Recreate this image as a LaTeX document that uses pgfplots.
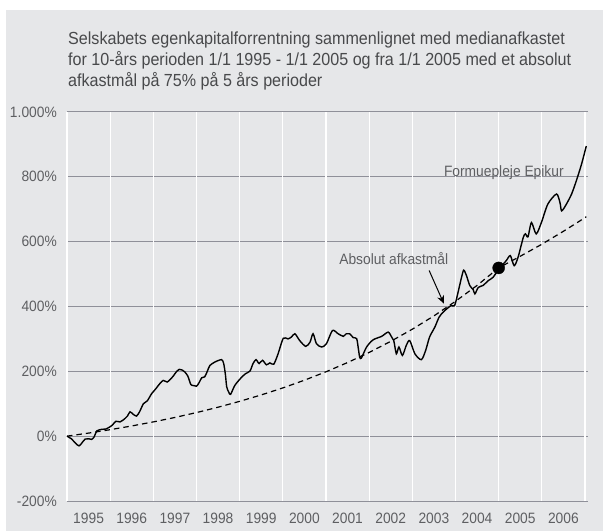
\documentclass[border=0pt]{standalone}
\usepackage{pgfplots}
\pgfplotsset{compat=1.18}
\usetikzlibrary{arrows.meta}
\usepackage{fontspec}
\setmainfont{Liberation Sans}[FakeStretch=0.92]
\definecolor{bgc}{HTML}{E6E7E9}
\definecolor{gridc}{HTML}{8F9099}
\definecolor{txtc}{HTML}{5E5F62}
\definecolor{titc}{HTML}{48494B}
\begin{document}
\begin{tikzpicture}
\fill[white] (0bp,0bp) rectangle (603bp,531bp);
\fill[bgc] (6bp,0bp) rectangle (603bp,521bp);
\node[anchor=base west, inner sep=0pt, text=titc, font=\fontsize{17.5bp}{21bp}\selectfont] at (68bp,486bp) {Selskabets egenkapitalforrentning sammenlignet med medianafkastet};
\node[anchor=base west, inner sep=0pt, text=titc, font=\fontsize{17.5bp}{21bp}\selectfont] at (68bp,465bp) {for 10-års perioden 1/1 1995 - 1/1 2005 og fra 1/1 2005 med et absolut};
\node[anchor=base west, inner sep=0pt, text=titc, font=\fontsize{17.5bp}{21bp}\selectfont] at (68bp,444bp) {afkastmål på 75\% på 5 års perioder};
\begin{axis}[
  at={(67bp,30bp)}, anchor=south west,
  scale only axis, width=521bp, height=389bp,
  xmin=1995, xmax=2007.07, ymin=-200, ymax=1000,
  axis line style={draw=none},
  major tick length=0pt,
  xtick={1995.5,1996.5,1997.5,1998.5,1999.5,2000.5,2001.5,2002.5,2003.5,2004.5,2005.5,2006.5},
  xticklabels={1995,1996,1997,1998,1999,2000,2001,2002,2003,2004,2005,2006},
  ytick={-200,0,200,400,600,800,1000},
  yticklabels={-200\%,0\%,200\%,400\%,600\%,800\%,1.000\%},
  ymajorgrids=true,
  grid style={gridc, line width=1bp},
  extra x ticks={1995,1996,1997,1998,1999,2000,2001,2002,2003,2004,2005,2006,2007},
  extra x tick labels={},
  extra x tick style={grid=major, grid style={white, line width=1.2bp}},
  tick label style={text=txtc, font=\fontsize{15bp}{17bp}\selectfont},
  yticklabel style={inner sep=0pt, xshift=-10bp},
  xticklabel style={inner sep=0pt, yshift=-12bp},
  clip=false,
]
\addplot[black, line width=1.2bp, dash pattern=on 5.5bp off 4bp] coordinates {
(1995,0) (1995.5,9.5) (1996,20) (1996.5,31.5) (1997,44) (1997.5,57.7) (1998,72.8) (1998.5,89.3) (1999,107.4) (1999.5,127.2) (2000,148.8) (2000.5,172.6) (2001,198.6) (2001.5,227.1) (2002,258.3) (2002.5,292.5) (2003,330) (2003.5,371) (2004,416) (2004.5,465) (2005,519) (2005.5,555) (2006,592) (2006.5,632) (2007,674) (2007.03,677)
};
\addplot[black, line width=1.4bp, smooth, tension=0.45] coordinates {
(1995.00,0) (1995.10,-8) (1995.20,-22) (1995.28,-30) (1995.35,-20) (1995.42,-9) (1995.50,-8) (1995.57,-10) (1995.63,-2) (1995.69,16) (1995.80,21) (1995.90,22) (1995.96,26) (1996.05,34) (1996.13,46) (1996.23,44) (1996.34,54) (1996.40,62) (1996.46,75) (1996.53,68) (1996.61,62) (1996.68,75) (1996.77,100) (1996.86,109) (1996.96,131) (1997.05,145) (1997.15,162) (1997.23,172) (1997.32,167) (1997.40,176) (1997.46,185) (1997.53,198) (1997.60,206) (1997.67,204) (1997.73,198) (1997.80,185) (1997.87,159) (1997.94,156) (1998.00,154) (1998.06,165) (1998.12,180) (1998.19,183) (1998.25,200) (1998.31,218) (1998.43,229) (1998.58,236) (1998.63,224) (1998.67,190) (1998.70,152) (1998.75,135) (1998.79,129) (1998.89,157) (1999.04,181) (1999.14,193) (1999.24,201) (1999.31,224) (1999.38,236) (1999.45,224) (1999.53,234) (1999.62,220) (1999.70,226) (1999.79,222) (1999.89,254) (2000.01,302) (2000.12,300) (2000.20,306) (2000.28,316) (2000.39,295) (2000.53,277) (2000.63,290) (2000.70,316) (2000.78,285) (2000.90,275) (2001.01,285) (2001.15,326) (2001.28,316) (2001.40,308) (2001.47,316) (2001.55,316) (2001.63,304) (2001.71,301) (2001.75,270) (2001.78,244) (2001.82,241) (2001.94,275) (2002.09,297) (2002.29,308) (2002.44,321) (2002.52,306) (2002.57,295) (2002.63,254) (2002.69,275) (2002.77,249) (2002.86,280) (2002.94,295) (2003.06,254) (2003.21,236) (2003.31,265) (2003.40,306) (2003.52,336) (2003.62,367) (2003.71,382) (2003.80,393) (2003.90,403) (2003.98,403) (2004.06,444) (2004.14,490) (2004.19,512) (2004.25,497) (2004.33,465) (2004.41,452) (2004.45,439) (2004.53,459) (2004.64,465) (2004.76,480) (2004.87,490) (2005.02,519) (2005.10,530) (2005.18,542) (2005.27,557) (2005.36,526) (2005.45,552) (2005.57,613) (2005.62,624) (2005.68,615) (2005.76,659) (2005.87,624) (2005.99,659) (2006.14,716) (2006.34,747) (2006.42,721) (2006.46,695) (2006.57,716) (2006.69,747) (2006.80,788) (2006.92,839) (2007.03,895)
};
\addplot[only marks, mark=*, mark size=6bp, black] coordinates {(2005.0,519)};
\node[text=txtc, font=\fontsize{15bp}{17bp}\selectfont, inner sep=0pt] at (axis cs:2002.57,548) {Absolut afkastmål};
\draw[-{Stealth[length=8bp,width=7bp]}, line width=1bp, black] (axis cs:2003.39,511) -- (axis cs:2003.73,409);
\node[text=txtc, font=\fontsize{15bp}{17bp}\selectfont, inner sep=0pt] at (axis cs:2005.12,812) {Formuepleje Epikur};
\end{axis}
\end{tikzpicture}
\end{document}
